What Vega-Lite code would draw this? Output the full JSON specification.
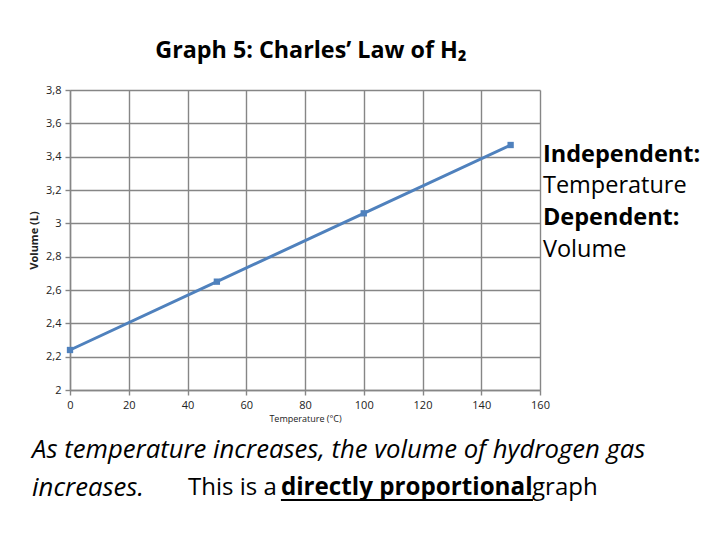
{
  "$schema": "https://vega.github.io/schema/vega-lite/v6.json",
  "width": 470,
  "height": 300,
  "autosize": "none",
  "padding": {"left": 70, "top": 90, "right": 180, "bottom": 150},
  "background": "white",
  "title": {
    "text": "Graph 5: Charles’ Law of H₂",
    "font": "Open Sans",
    "fontSize": 23.3,
    "fontWeight": "bold",
    "color": "black",
    "anchor": "middle",
    "dx": 6,
    "offset": 21
  },
  "config": {
    "view": {"stroke": null},
    "axis": {
      "labelFont": "Open Sans",
      "titleFont": "Open Sans",
      "labelColor": "#222",
      "titleColor": "#222",
      "gridColor": "#868686",
      "gridWidth": 1.4,
      "gridOpacity": 1,
      "domainColor": "#868686",
      "domainWidth": 1.4,
      "tickColor": "#868686",
      "tickWidth": 1.4,
      "tickSize": 5
    }
  },
  "resolve": {"axis": {"x": "independent", "y": "independent"}},
  "layer": [
    {
      "data": {
        "values": [
          {"temperature": 0, "volume": 2.24},
          {"temperature": 50, "volume": 2.65},
          {"temperature": 100, "volume": 3.06},
          {"temperature": 150, "volume": 3.47}
        ]
      },
      "encoding": {
        "x": {
          "field": "temperature",
          "type": "quantitative",
          "scale": {"domain": [0, 160], "nice": false},
          "axis": {
            "values": [0, 20, 40, 60, 80, 100, 120, 140, 160],
            "labelOverlap": false,
            "labelFlush": false,
            "labelFontSize": 11,
            "labelPadding": 4,
            "title": "Temperature (°C)",
            "titleFontSize": 9,
            "titleFontWeight": "normal",
            "titlePadding": 4
          }
        },
        "y": {
          "field": "volume",
          "type": "quantitative",
          "scale": {"domain": [2, 3.8], "nice": false, "zero": false},
          "axis": {
            "values": [2, 2.2, 2.4, 2.6, 2.8, 3, 3.2, 3.4, 3.6, 3.8],
            "labelOverlap": false,
            "labelFlush": false,
            "labelExpr": "replace(format(datum.value, '~g'), '.', ',')",
            "labelFontSize": 11,
            "labelPadding": 4,
            "title": "Volume (L)",
            "titleFontSize": 11,
            "titleFontWeight": "bold",
            "titlePadding": 6
          }
        }
      },
      "layer": [
        {"mark": {"type": "line", "color": "#4F81BD", "strokeWidth": 3}},
        {"mark": {"type": "point", "shape": "square", "filled": true, "opacity": 1, "color": "#4F81BD", "size": 40}}
      ]
    },
    {
      "data": {"values": [{}]},
      "layer": [
        {
          "mark": {"type": "text", "font": "Open Sans", "fontSize": 23.5, "fontWeight": "bold", "align": "left", "baseline": "middle", "color": "black", "clip": false},
          "encoding": {"x": {"datum": 161, "axis": null}, "y": {"datum": 3.41, "axis": null}, "text": {"value": "Independent:"}}
        },
        {
          "mark": {"type": "text", "font": "Open Sans", "fontSize": 23.5, "align": "left", "baseline": "middle", "color": "black", "clip": false},
          "encoding": {"x": {"datum": 161, "axis": null}, "y": {"datum": 3.224, "axis": null}, "text": {"value": "Temperature"}}
        },
        {
          "mark": {"type": "text", "font": "Open Sans", "fontSize": 23.5, "fontWeight": "bold", "align": "left", "baseline": "middle", "color": "black", "clip": false},
          "encoding": {"x": {"datum": 161, "axis": null}, "y": {"datum": 3.032, "axis": null}, "text": {"value": "Dependent:"}}
        },
        {
          "mark": {"type": "text", "font": "Open Sans", "fontSize": 23.5, "align": "left", "baseline": "middle", "color": "black", "clip": false},
          "encoding": {"x": {"datum": 161, "axis": null}, "y": {"datum": 2.84, "axis": null}, "text": {"value": "Volume"}}
        },
        {
          "mark": {"type": "text", "font": "Open Sans", "fontSize": 25.7, "fontStyle": "italic", "align": "left", "baseline": "middle", "color": "black", "clip": false},
          "encoding": {"x": {"datum": -12.9, "axis": null}, "y": {"datum": 1.64, "axis": null}, "text": {"value": "As temperature increases, the volume of hydrogen gas"}}
        },
        {
          "mark": {"type": "text", "font": "Open Sans", "fontSize": 25.7, "fontStyle": "italic", "align": "left", "baseline": "middle", "color": "black", "clip": false},
          "encoding": {"x": {"datum": -12.9, "axis": null}, "y": {"datum": 1.412, "axis": null}, "text": {"value": "increases."}}
        },
        {
          "mark": {"type": "text", "font": "Open Sans", "fontSize": 24, "align": "left", "baseline": "middle", "color": "black", "clip": false},
          "encoding": {"x": {"datum": 40.2, "axis": null}, "y": {"datum": 1.412, "axis": null}, "text": {"value": "This is a"}}
        },
        {
          "mark": {"type": "text", "font": "Open Sans", "fontSize": 24.2, "fontWeight": "bold", "align": "left", "baseline": "middle", "color": "black", "clip": false},
          "encoding": {"x": {"datum": 71.8, "axis": null}, "y": {"datum": 1.412, "axis": null}, "text": {"value": "directly proportional"}}
        },
        {
          "mark": {"type": "text", "font": "Open Sans", "fontSize": 24, "align": "left", "baseline": "middle", "color": "black", "clip": false},
          "encoding": {"x": {"datum": 157.3, "axis": null}, "y": {"datum": 1.412, "axis": null}, "text": {"value": "graph"}}
        },
        {
          "mark": {"type": "rule", "color": "black", "strokeWidth": 2, "clip": false},
          "encoding": {"x": {"datum": 71.8, "axis": null}, "x2": {"datum": 157.6}, "y": {"datum": 1.34, "axis": null}}
        }
      ]
    }
  ]
}
